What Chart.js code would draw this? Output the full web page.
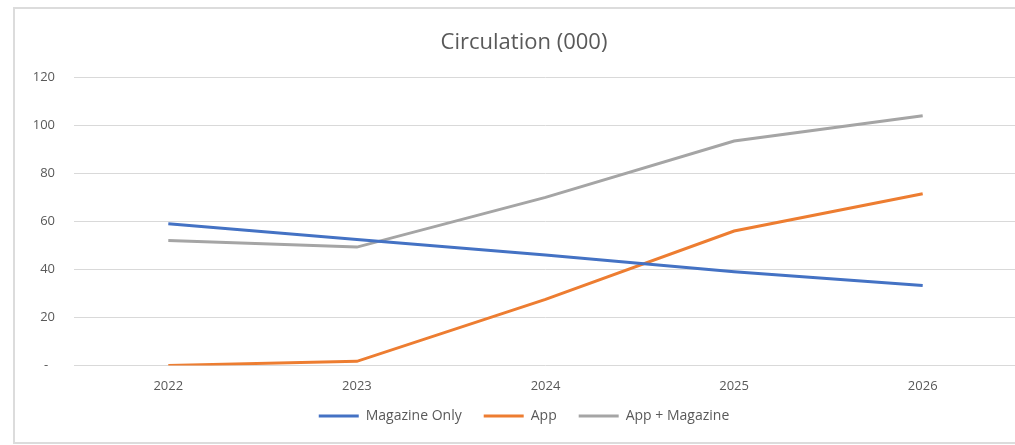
<!DOCTYPE html>
<html>
<head>
<meta charset="utf-8">
<script src="https://cdn.jsdelivr.net/npm/chart.js@4"></script>
<style>
  html, body { margin: 0; padding: 0; background: #fff; overflow: hidden; }
  #frame { position: absolute; left: 13px; top: 7px; width: 1030px; height: 433px; border: 2px solid #dcdcdc; }
  #chart { position: absolute; left: 0; top: 0; }
</style>
</head>
<body>
<div id="frame"></div>
<canvas id="chart" width="1040" height="453"></canvas>
<script>
// circulation chart data (thousands)
const years = ['2022', '2023', '2024', '2025', '2026'];
const magazineOnly = [59, 52.5, 46, 39, 33.3];
const appOnly = [0, 1.7, 27.5, 56, 71.5];
const appPlusMagazine = [52, 49.3, 70, 93.5, 104];

const textColor = '#595959';
const fontFamily = '"Open Sans", "Liberation Sans", sans-serif';

const ctx = document.getElementById('chart').getContext('2d');

function series(label, data, color) {
    return {
        label: label,
        data: data,
        borderColor: color,
        backgroundColor: color,
        borderWidth: 3,
        pointRadius: 0,
        fill: false,
        tension: 0
    };
}

// legend padding also sets the gap between items, so pull the legend up afterwards
const legendNudge = {
    id: 'legendNudge',
    afterLayout(chart) {
        chart.legend.top -= 20;
        chart.legend.bottom -= 20;
    }
};

new Chart(ctx, {
    type: 'line',
    data: {
        labels: years,
        datasets: [
            series('Magazine Only', magazineOnly, '#4472C4'),
            series('App', appOnly, '#ED7D31'),
            series('App + Magazine', appPlusMagazine, '#A5A5A5')
        ]
    },
    plugins: [legendNudge],
    options: {
        responsive: false,
        animation: false,
        layout: { padding: { left: 31, right: 23, top: 0, bottom: 0 } },
        scales: {
            x: {
                offset: true,
                grid: { display: false, drawTicks: false },
                border: { display: false },
                ticks: { color: textColor, font: { family: fontFamily, size: 13 }, padding: 13 }
            },
            y: {
                min: 0,
                max: 120,
                grid: { color: '#d9d9d9', lineWidth: 1, drawTicks: false },
                border: { display: false },
                ticks: {
                    stepSize: 20,
                    color: textColor,
                    font: { family: fontFamily, size: 13 },
                    padding: 19,
                    callback: (v) => v === 0 ? '-  ' : v
                },
                afterFit: (scale) => { scale.width = 43; }
            }
        },
        plugins: {
            title: {
                display: true,
                text: 'Circulation (000)',
                color: textColor,
                font: { family: fontFamily, size: 22, weight: 'normal' },
                padding: { top: 30, bottom: 21 }
            },
            legend: {
                position: 'bottom',
                labels: {
                    color: textColor,
                    font: { family: fontFamily, size: 14 },
                    boxWidth: 40,
                    boxHeight: 3,
                    padding: 22,
                    generateLabels: (chart) => Chart.defaults.plugins.legend.labels.generateLabels(chart)
                        .map((item) => Object.assign(item, { lineWidth: 0 }))
                }
            },
            tooltip: { enabled: false }
        }
    }
});
</script>
</body>
</html>
